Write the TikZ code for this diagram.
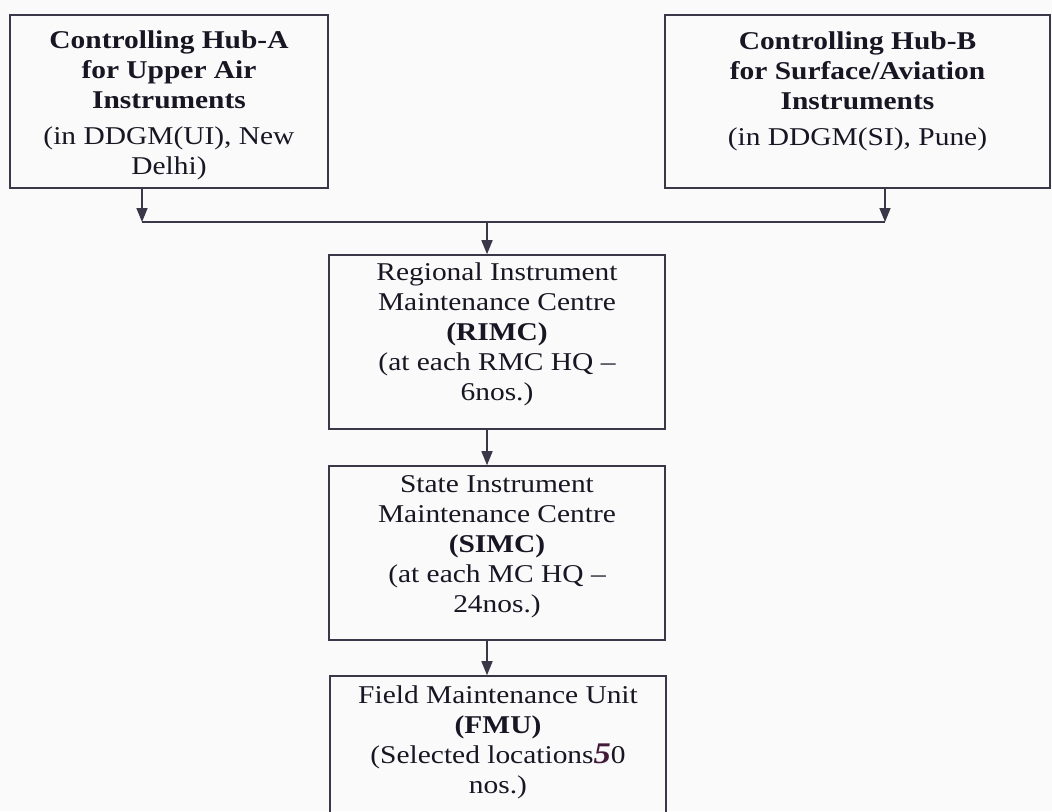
\documentclass[tikz,border=0pt]{standalone}
\usepackage{fontspec}
\setmainfont{Liberation Serif}[FakeStretch=1.15]
\usepackage{xcolor}
\usetikzlibrary{arrows.meta}
\definecolor{inkline}{RGB}{58,56,72}
\definecolor{inktext}{RGB}{24,22,34}
\definecolor{paper}{RGB}{250,250,251}
\definecolor{penmark}{RGB}{68,26,58}
\newcommand{\boxtext}[4]{\parbox[c][#1][t]{#2}{\centering\vspace*{#3}#4}}

\begin{document}
\begin{tikzpicture}[x=0.5pt,y=-0.5pt,
  unitbox/.style={draw=inkline,line width=0.8pt,inner sep=0pt,text=inktext,font=\fontsize{12.8}{15}\selectfont},
  feed/.style={-{Triangle[length=7pt,width=5.5pt]},draw=inkline,line width=0.8pt}]
\fill[paper] (0,0) rectangle (1052,811);
\useasboundingbox (0,0) rectangle (1052,811);
\node[unitbox] (hubA) at (169,101.5) {\boxtext{86.5pt}{159pt}{8pt}{\textbf{Controlling Hub-A}\\\textbf{for Upper Air}\\\textbf{Instruments}\\[3pt](in DDGM(UI), New\\Delhi)}};
\node[unitbox] (hubB) at (857.5,101.5) {\boxtext{86.5pt}{192.5pt}{8.3pt}{\textbf{Controlling Hub-B}\\\textbf{for Surface/Aviation}\\\textbf{Instruments}\\[3pt](in DDGM(SI), Pune)}};
\node[unitbox] (rimc) at (497,342) {\boxtext{87pt}{168pt}{3.8pt}{Regional Instrument\\Maintenance Centre\\\textbf{(RIMC)}\\(at each RMC HQ --\\6nos.)}};
\node[unitbox] (simc) at (497,553) {\boxtext{87pt}{168pt}{4.8pt}{State Instrument\\Maintenance Centre\\\textbf{(SIMC)}\\(at each MC HQ --\\24nos.)}};
\node[unitbox] (fmu) at (498,763) {\boxtext{87pt}{168pt}{4.8pt}{Field Maintenance Unit\\\textbf{(FMU)}\\(Selected locations{\color{penmark}\fontsize{15}{15}\selectfont\bfseries\itshape 5}0\\nos.)}};
\coordinate (busL) at (142,222);
\coordinate (busR) at (885,222);
\coordinate (busM) at (487,222);
\draw[feed] (hubA.south -| busL) -- (busL);
\draw[feed] (hubB.south -| busR) -- (busR);
\draw[inkline,line width=0.8pt] (busL) -- (busR);
\draw[feed] (busM) -- (busM |- rimc.north);
\draw[feed] (rimc.south -| busM) -- (simc.north -| busM);
\draw[feed] (simc.south -| busM) -- (fmu.north -| busM);
\end{tikzpicture}
\end{document}
